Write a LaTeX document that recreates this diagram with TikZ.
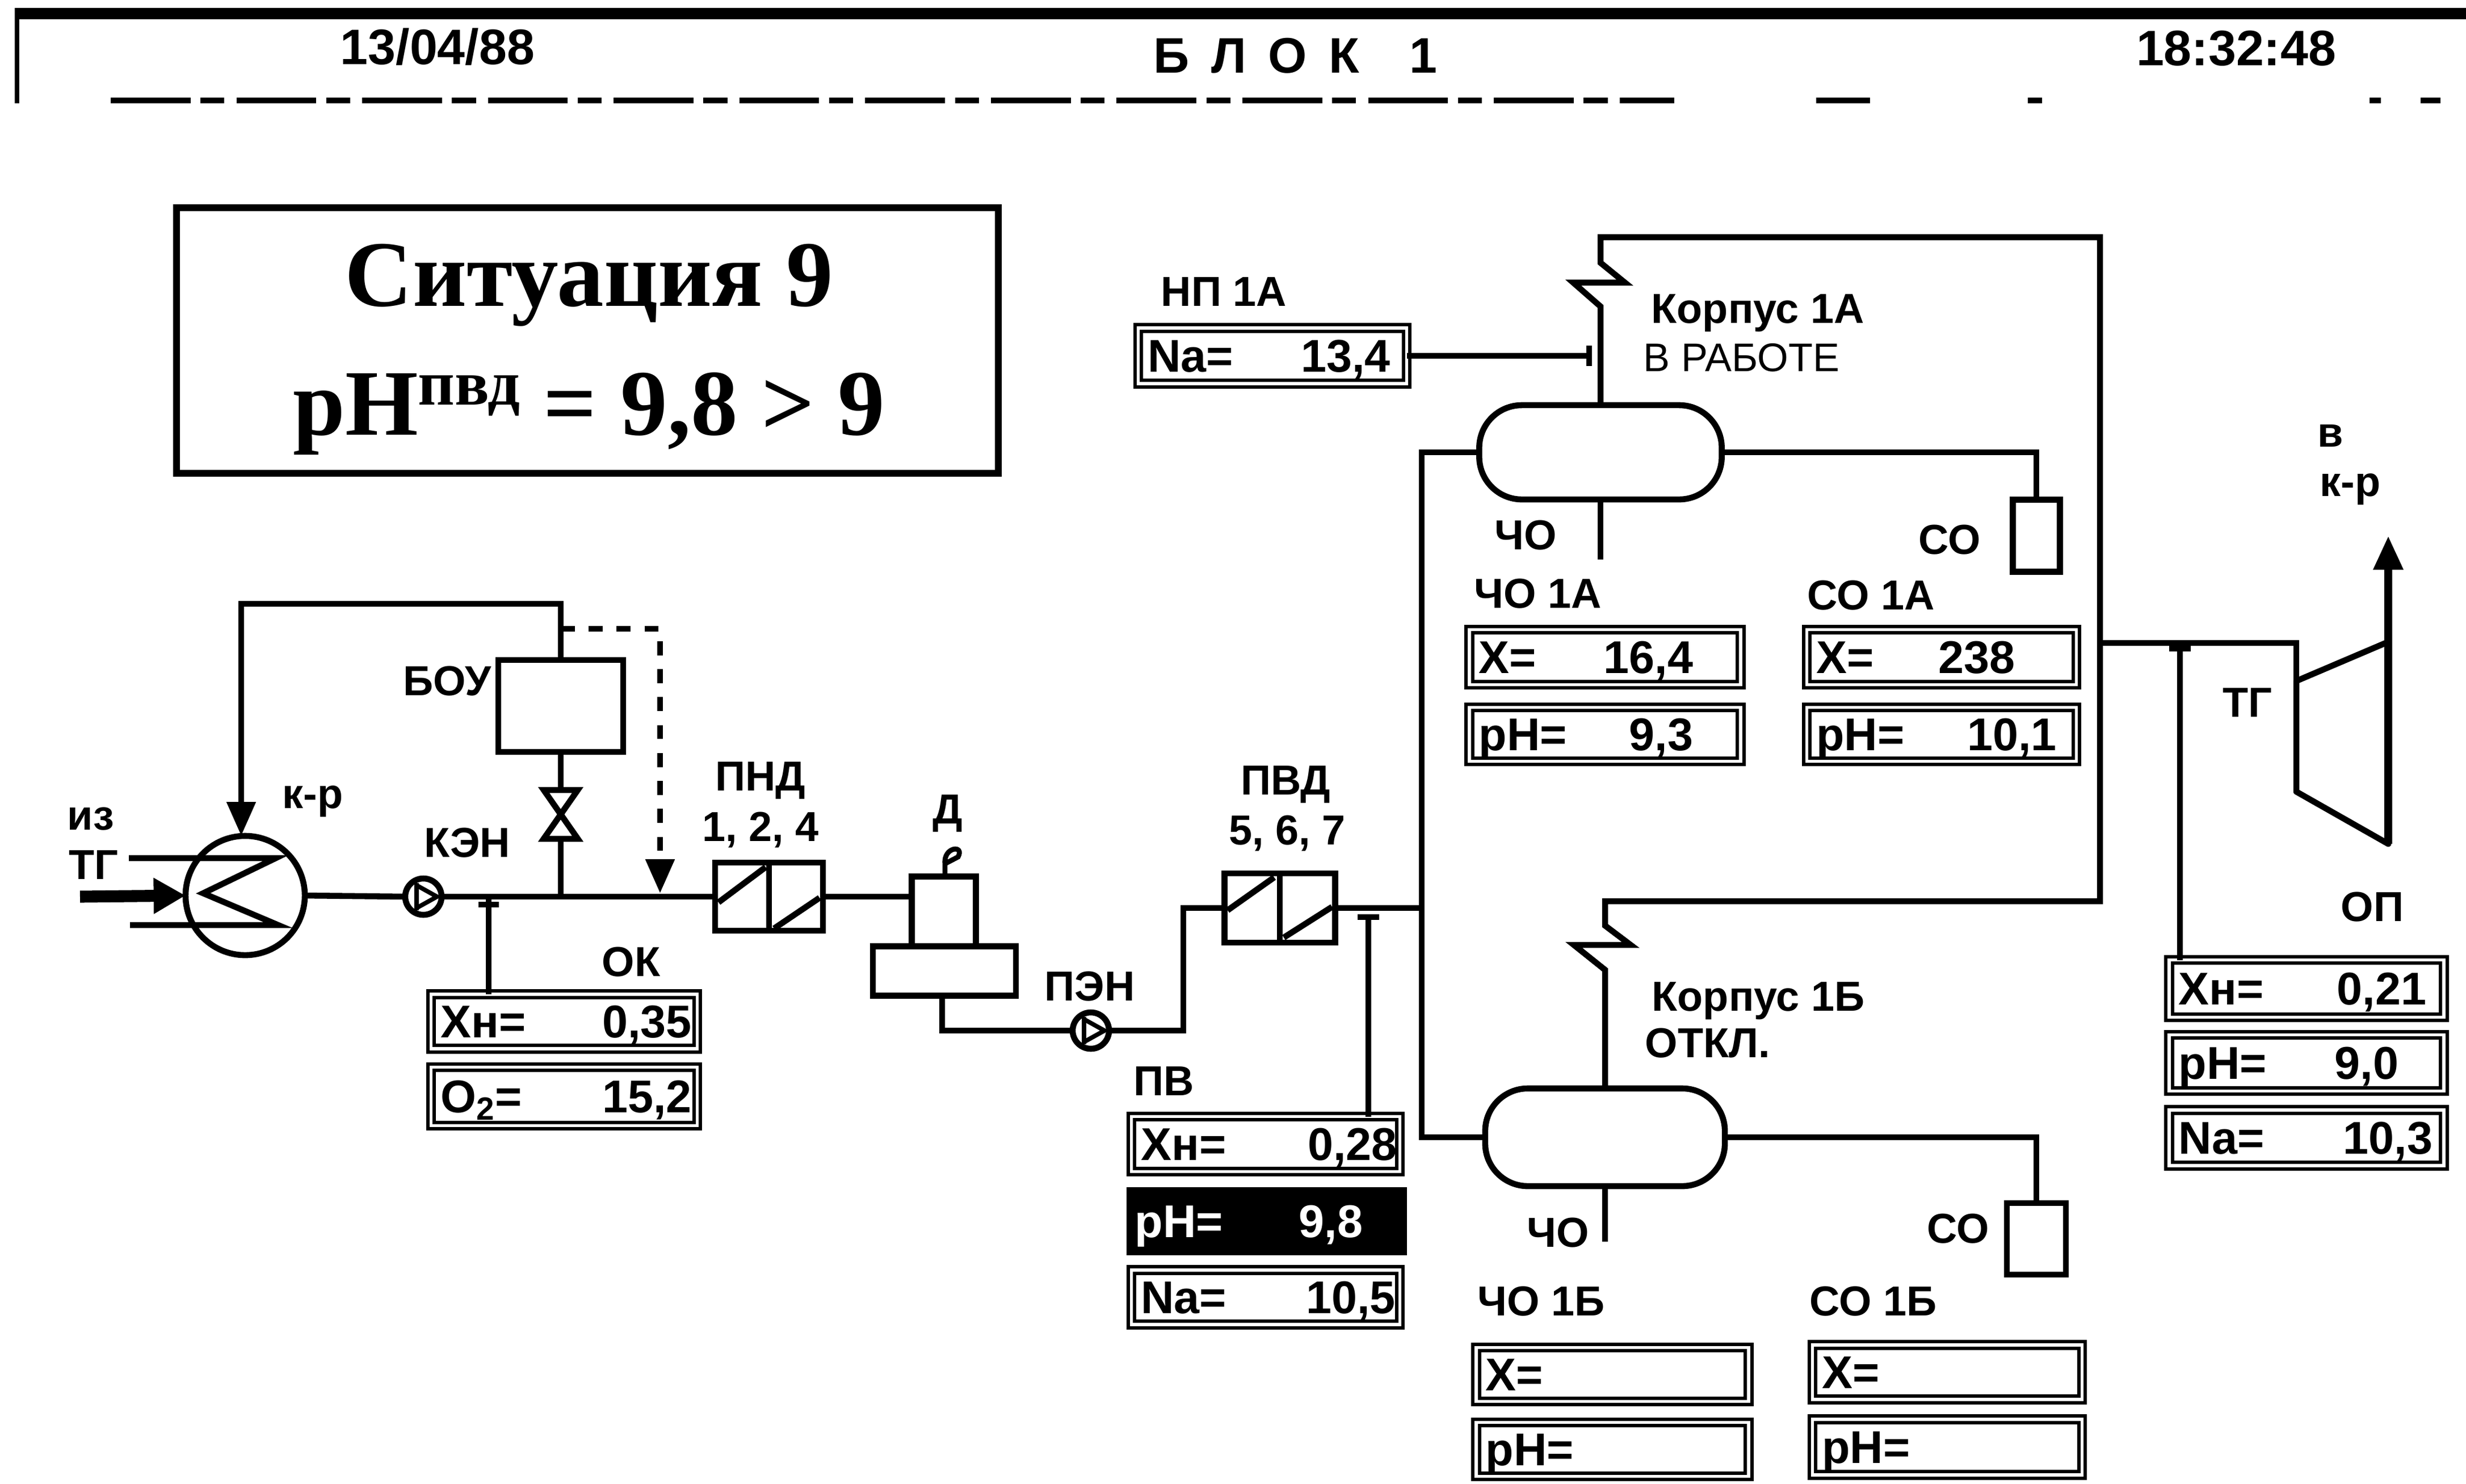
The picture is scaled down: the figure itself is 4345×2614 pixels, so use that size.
\documentclass[tikz,border=0pt]{standalone}
\usepackage{fontspec}
\setmainfont{Liberation Sans}
\newfontfamily\serifbf{Liberation Serif}
\usetikzlibrary{arrows.meta,calc}
\newcommand{\valfont}{\bfseries\fontsize{23}{27}\selectfont}
\newcommand{\lblfont}{\bfseries\fontsize{21}{25}\selectfont}
\newcommand{\hdrfont}{\bfseries\fontsize{25}{30}\selectfont}
\newcommand{\titlefont}{\serifbf\bfseries\fontsize{47}{56}\selectfont}
\tikzset{
  pipe/.style={line width=3pt},
  eq/.style={draw, line width=3pt, inner sep=0pt, outer sep=0pt},
  vessel/.style={draw, line width=3pt, rounded corners=0.75cm, inner sep=0pt, outer sep=0pt},
  pumpc/.style={circle, draw, line width=3pt, minimum size=0.64cm, inner sep=0pt, outer sep=0pt},
  vbx/.style={draw, line width=1.7pt, double, double distance=1.5pt, inner sep=0pt, outer sep=0pt},
  vtxt/.style={font=\valfont, inner sep=0pt},
  lbl/.style={font=\lblfont, inner sep=0pt},
  arr/.style={-{Triangle[length=17pt,width=14pt]}},
}
% value box: name, cx, cy, w, h, left text, right text, right offset
\newcommand{\valbx}[8]{%
  \node[vbx, minimum width=(#4-17)*0.01cm, minimum height=(#5-17)*0.01cm] (#1) at (#2,#3) {};
  \node[vtxt, anchor=base west] (#1-l) at ($(#1.west)+(16,28)$) {#6};
  \node[vtxt, anchor=base east] (#1-r) at ($(#1.east)+(8-#8,28)$) {#7};
}
\newcommand{\valbxb}[8]{%
  \node[draw, fill=black, line width=2.4pt, inner sep=0pt, outer sep=0pt, minimum width=(#4-8)*0.01cm, minimum height=(#5-8)*0.01cm] (#1) at (#2,#3) {};
  \node[vtxt, text=white, anchor=base west] (#1-l) at ($(#1.west)+(10,28)$) {#6};
  \node[vtxt, text=white, anchor=base east] (#1-r) at ($(#1.east)+(4-#8,28)$) {#7};
}
\newcommand{\pumpin}[1]{%
  \draw[line width=2.2pt] ([shift={(-12,-24)}]#1.center) -- ([shift={(-12,24)}]#1.center);
  \draw[line width=2.2pt, line join=miter] ([shift={(-12,-20)}]#1.center) -- ([shift={(24,0)}]#1.center) -- ([shift={(-12,20)}]#1.center);
}
\begin{document}
\begin{tikzpicture}[x=0.01cm, y=-0.01cm]
\useasboundingbox (0,0) rectangle (4345,2614);

% ---------- header ----------
\draw[line width=5.6pt] (30,24) -- (4345,24);
\draw[line width=2.2pt] (30,14) -- (30,182);
\draw[line width=2.8pt, dash pattern=on 40pt off 5pt on 12pt off 6pt] (195,177) -- (2950,177);
\draw[line width=2.8pt] (3200,177) -- (3295,177) (3573,177) -- (3598,177) (4175,177) -- (4195,177) (4265,177) -- (4300,177);
\node[font=\hdrfont, anchor=base, inner sep=0pt] (date) at (771,113) {13/04/88};
\node[font=\hdrfont, anchor=base, inner sep=0pt] (blok) at (2282,128) {{\spaceskip=11pt\relax Б Л О К\hspace{14pt} 1}};
\node[font=\hdrfont, anchor=base, inner sep=0pt] (time) at (3940,115) {18:32:48};

% ---------- situation box ----------
\node[draw, line width=3.4pt, minimum width=14.48cm, minimum height=4.68cm, inner sep=0pt] (sit) at (1035,600) {};
\node[font=\titlefont, anchor=base, inner sep=0pt] (sit1) at (1038,539) {Ситуация 9};
\node[font=\titlefont, anchor=base, inner sep=0pt] (sit2) at (1038,766) {pH\raisebox{15pt}{\fontsize{32}{32}\selectfont пвд} = 9,8 > 9};

% ---------- condenser ----------
\node[circle, draw, pipe, minimum size=2.1cm, inner sep=0pt, outer sep=0pt] (cond) at (432,1578) {};
\draw[pipe, line join=miter] (227,1512) -- (486,1512) -- (358,1574) -- (490,1630) -- (229,1630);
\draw[line width=6pt, -{Triangle[length=16pt,width=17pt]}] (141,1580) -- (cond.west);
\node[lbl] (izl) at (160,1443) {из};
\node[lbl] (tgl) at (165,1524) {ТГ};
\node[lbl] (krl) at (551,1412) {к-р};

% ---------- БОУ loop ----------
\node[eq, minimum width=2.2cm, minimum height=1.62cm] (bou) at (988,1244) {};
\node[lbl, anchor=east] (boul) at (866,1200) {БОУ};
\coordinate (loopL) at (425,1064);
\coordinate (loopR) at (988,1064);
\draw[pipe, arr] (bou.north) -- (loopR) -- (loopL) -- (cond.north -| loopL);
\coordinate (vt) at (988,1392);
\coordinate (vb) at (988,1478);
\coordinate (jB) at (988,1580);
\draw[pipe] (bou.south) -- (vt);
\draw[pipe, line join=miter] (958,1392) -- (1018,1392) -- (958,1478) -- (1018,1478) -- cycle;
\draw[pipe] (vb) -- (jB);

% ---------- КЭН ----------
\node[pumpc] (ken) at (746,1580) {};
\pumpin{ken}
\node[lbl] (kenl) at (823,1485) {КЭН};

% ---------- ПНД ----------
\node[eq, minimum width=1.9cm, minimum height=1.2cm] (pnd) at (1355,1580) {};
\draw[pipe] (pnd.north) -- (pnd.south);
\draw[pipe] (1266,1590) -- (1349,1528);
\draw[pipe] (1364,1636) -- (1444,1582);
\node[lbl] (pndl) at (1340,1375) {ПНД};
\node[lbl] (pndn) at (1340,1462) {1, 2, 4};

\draw[pipe] (cond.east) -- (ken.west);
\draw[pipe] (ken.east) -- (pnd.west);

% dashed line
\coordinate (dS) at (988,1108);
\coordinate (dC) at (1163,1108);
\coordinate (dE) at (1163,1574);
\draw[pipe, dash pattern=on 7pt off 7pt, arr] (dS) -- (dC) -- (dE);

% ---------- ОК sample ----------
\valbx{ok1}{994}{1800}{486}{113}{Хн=}{0,35}{17}
\valbx{ok2}{994}{1932}{486}{120}{O\textsubscript{2}=}{15,2}{17}
\coordinate (okT) at (861,1580);
\draw[pipe] (843,1594) -- (879,1594);
\draw[pipe] (okT) -- (okT |- ok1.north);
\node[lbl] (okl) at (1112,1695) {ОК};

% ---------- Д ----------
\node[eq, minimum width=1.13cm, minimum height=1.23cm] (dup) at (1663,1606) {};
\node[eq, minimum width=2.52cm, minimum height=0.87cm] (dlow) at (1664,1711) {};
\draw[pipe] (pnd.east) -- (pnd.east -| dup.west);
\draw[line width=2.5pt] (1665,1545) -- (1665,1522) .. controls (1662,1492) and (1700,1488) .. (1688,1510) -- (1665,1522);
\node[lbl] (dl) at (1670,1433) {Д};

% ---------- ПЭН ----------
\node[pumpc] (pen) at (1922,1816) {};
\pumpin{pen}
\node[lbl] (penl) at (1920,1738) {ПЭН};
\coordinate (d1) at (1660,1816);
\draw[pipe] (dlow.south -| d1) -- (d1) -- (pen.west);

% ---------- ПВД ----------
\node[eq, minimum width=1.95cm, minimum height=1.22cm] (pvd) at (2255,1600) {};
\draw[pipe] (pvd.north) -- (pvd.south);
\draw[pipe] (2163,1604) -- (2245,1546);
\draw[pipe] (2262,1652) -- (2347,1598);
\node[lbl] (pvdl) at (2265,1382) {ПВД};
\node[lbl] (pvdn) at (2268,1468) {5, 6, 7};
\coordinate (p1) at (2085,1816);
\coordinate (p2) at (2085,1600);
\draw[pipe] (pen.east) -- (p1) -- (p2) -- (pvd.west);

% ---------- ПВ sample ----------
\valbx{pv1}{2230}{2016}{490}{114}{Хн=}{0,28}{12}
\valbxb{pv2}{2232}{2152}{494}{119}{pH=}{9,8}{77}
\valbx{pv3}{2230}{2286}{490}{113}{Na=}{10,5}{15}
\coordinate (pvT) at (2411,1616);
\draw[pipe] (2392,1616) -- (2430,1616);
\draw[pipe] (pvT) -- (pvT |- pv1.north);
\node[lbl, anchor=west] (pvl) at (1997,1905) {ПВ};

% ---------- vessels ----------
\node[vessel, minimum width=4.27cm, minimum height=1.66cm] (v1a) at (2820,797) {};
\node[vessel, minimum width=4.22cm, minimum height=1.72cm] (v1b) at (2828,2004) {};
\coordinate (bvT) at (2505,797);
\coordinate (bvM) at (2505,1600);
\coordinate (bvB) at (2505,2004);
\draw[pipe] (pvd.east) -- (bvM);
\draw[pipe] (v1a.west) -- (bvT) -- (bvB) -- (v1b.west);

% СО boxes
\node[eq, minimum width=0.83cm, minimum height=1.27cm] (co1a) at (3588,944) {};
\node[eq, minimum width=1.04cm, minimum height=1.26cm] (co1b) at (3588,2183) {};
\draw[pipe] (v1a.east) -- (v1a.east -| co1a.north) -- (co1a.north);
\draw[pipe] (v1b.east) -- (v1b.east -| co1b.north) -- (co1b.north);
\coordinate (cho1aE) at (2820,986);
\coordinate (cho1bE) at (2828,2188);
\draw[pipe] (v1a.south) -- (cho1aE);
\draw[pipe] (v1b.south) -- (cho1bE);

% top loop with break symbols
\coordinate (rTop) at (3700,418);
\coordinate (rBot) at (3700,1588);
\draw[pipe, line join=miter] (v1a.north) -- (2820,540) -- (2772,498) -- (2863,498) -- (2820,463) -- (2820,418)
  -- (rTop) -- (rBot) -- (2828,1588) -- (2828,1631) -- (2873,1665) -- (2773,1665) -- (2828,1709) -- (v1b.north);

% НП 1А
\valbx{np}{2242}{627}{490}{115}{Na=}{13,4}{36}
\node[lbl, anchor=west] (npl) at (2045,514) {НП 1А};
\coordinate (npT) at (2800,627);
\draw[pipe] (np.east) -- (npT);
\draw[pipe] (2800,609) -- (2800,645);

% labels 1А
\node[lbl, anchor=west] (k1a) at (2909,552) {Корпус 1А};
\node[font=\fontsize{20}{24}\selectfont, anchor=west, inner sep=0pt] (st1a) at (2895,630) {В РАБОТЕ};
\node[lbl] (cho1al) at (2688,943) {ЧО};
\node[lbl] (co1al) at (3435,951) {СО};
\node[lbl, anchor=west] (cho1at) at (2597,1046) {ЧО 1А};
\node[lbl, anchor=west] (co1at) at (3184,1049) {СО 1А};
\valbx{cx1a}{2828}{1158}{495}{114}{Х=}{16,4}{91}
\valbx{cp1a}{2828}{1294}{495}{112}{pH=}{9,3}{91}
\valbx{sx1a}{3421}{1158}{492}{114}{Х=}{238}{115}
\valbx{sp1a}{3421}{1294}{492}{112}{pH=}{10,1}{42}

% labels 1Б
\node[lbl, anchor=west] (k1b) at (2910,1764) {Корпус 1Б};
\node[lbl, anchor=west] (st1b) at (2898,1838) {ОТКЛ.};
\node[lbl] (cho1bl) at (2745,2172) {ЧО};
\node[lbl] (co1bl) at (3450,2165) {СО};
\node[lbl, anchor=west] (cho1bt) at (2603,2293) {ЧО 1Б};
\node[lbl, anchor=west] (co1bt) at (3188,2293) {СО 1Б};
\valbx{cx1b}{2841}{2422}{497}{112}{Х=}{}{20}
\valbx{cp1b}{2841}{2554}{497}{112}{pH=}{}{20}
\valbx{sx1b}{3431}{2418}{492}{113}{Х=}{}{20}
\valbx{sp1b}{3431}{2550}{492}{115}{pH=}{}{20}

% ---------- turbine ----------
\coordinate (tgIn) at (3700,1133);
\coordinate (tTop) at (4046,1133);
\coordinate (tA) at (4046,1200);
\coordinate (tB) at (4208,1131);
\coordinate (tC) at (4208,1487);
\coordinate (tD) at (4046,1395);
\coordinate (tArr) at (4208,944);
\draw[pipe] (tgIn) -- (tTop) -- (tA);
\draw[pipe, line join=round] (tA) -- (tB) -- (tC) -- (tD) -- cycle;
\draw[line width=4pt, arr] (tC) -- (tArr);
\node[lbl] (tgl2) at (3960,1238) {ТГ};
\node[lbl] (opl) at (4180,1598) {ОП};
\node[lbl] (vl) at (4106,768) {в};
\node[lbl] (krl2) at (4141,862) {к-р};
\valbx{op1}{4064}{1742}{501}{118}{Хн=}{0,21}{38}
\valbx{op2}{4064}{1873}{501}{116}{pH=}{9,0}{87}
\valbx{op3}{4064}{2005}{501}{115}{Na=}{10,3}{27}
\coordinate (opT) at (3841,1140);
\draw[pipe] (3822,1143) -- (3860,1143);
\draw[pipe] (opT) -- (opT |- op1.north);
\end{tikzpicture}
\end{document}
